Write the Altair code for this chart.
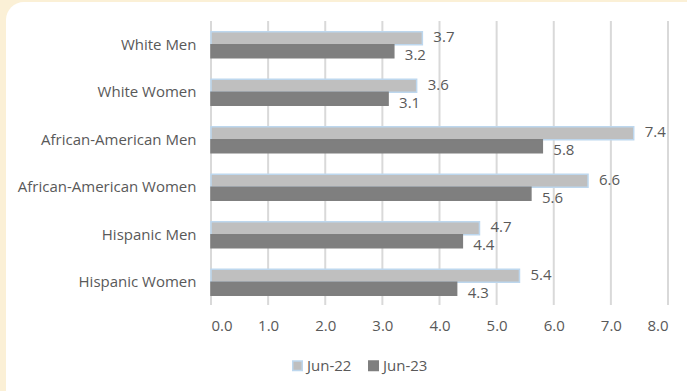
import altair as alt
import pandas as pd

categories = ["White Men", "White Women", "African-American Men",
              "African-American Women", "Hispanic Men", "Hispanic Women"]
series = ["Jun-22", "Jun-23"]
jun22 = [3.7, 3.6, 7.4, 6.6, 4.7, 5.4]
jun23 = [3.2, 3.1, 5.8, 5.6, 4.4, 4.3]
ticks = [0, 1, 2, 3, 4, 5, 6, 7, 8]

rows = []
for c, a, b in zip(categories, jun22, jun23):
    rows.append({"group": c, "series": "Jun-22", "value": a})
    rows.append({"group": c, "series": "Jun-23", "value": b})
df = pd.DataFrame(rows)

FONT = "Open Sans"
TXT = "#595959"
FS = 15
W, H = 457, 285

x_scale = alt.Scale(domain=[0, 8], nice=False)
x_axis = alt.Axis(values=ticks, format=".1f", grid=False, domain=False,
                  ticks=False, labelPadding=12, title=None, zindex=1,
                  labelFont=FONT, labelFontSize=FS, labelColor=TXT)
x_enc = alt.X("value:Q", scale=x_scale, axis=x_axis)
y_enc = alt.Y("group:N", sort=categories,
              scale=alt.Scale(paddingInner=0.45, paddingOuter=0.225),
              axis=alt.Axis(domain=False, ticks=False, labelPadding=15, title=None,
                            zindex=1, labelFont=FONT, labelFontSize=FS,
                            labelColor=TXT, labelLimit=300))
yoff = alt.YOffset("series:N", sort=series,
                   scale=alt.Scale(paddingInner=0, paddingOuter=0))

legend = alt.Legend(title=None, orient="none", legendX=79, legendY=337,
                    padding=0, direction="horizontal", symbolType="square",
                    symbolSize=90, symbolStrokeWidth=1.5, columnPadding=13,
                    labelFont=FONT, labelFontSize=FS, labelColor=TXT,
                    labelOffset=2)

# white rounded panel behind everything
panel = alt.Chart(pd.DataFrame({"k": [0]})).mark_rect(
    color="white", cornerRadius=18
).encode(x=alt.value(-205), x2=alt.value(520), y=alt.value(-19), y2=alt.value(420))

# vertical gridlines at each tick value
grid = alt.Chart(pd.DataFrame({"value": ticks})).mark_rule(
    color="#D9D9D9", strokeWidth=2
).encode(x=x_enc, y=alt.value(0), y2=alt.value(H - 1))

base = alt.Chart(df)

bars = base.mark_bar(strokeWidth=1.5).encode(
    x=x_enc, y=y_enc, yOffset=yoff,
    color=alt.Color("series:N", sort=series,
                    scale=alt.Scale(domain=series, range=["#BFBFBF", "#7F7F7F"]),
                    legend=legend),
    stroke=alt.Stroke("series:N", sort=series,
                      scale=alt.Scale(domain=series, range=["#BDD7EE", "#7F7F7F"]),
                      legend=legend),
)

lab22 = base.transform_filter(alt.datum.series == "Jun-22").mark_text(
    align="left", baseline="middle", dx=11, dy=-1, font=FONT, fontSize=FS, color=TXT
).encode(x=x_enc, y=y_enc, yOffset=yoff, text=alt.Text("value:Q", format=".1f"))

lab23 = base.transform_filter(alt.datum.series == "Jun-23").mark_text(
    align="left", baseline="middle", dx=11, dy=4, font=FONT, fontSize=FS, color=TXT
).encode(x=x_enc, y=y_enc, yOffset=yoff, text=alt.Text("value:Q", format=".1f"))

chart = alt.layer(panel, grid, bars, lab22, lab23).properties(
    width=W, height=H,
    autosize=alt.AutoSizeParams(type="none"),
    padding={"left": 211, "top": 21, "right": 19, "bottom": 85},
    background="#FBF0D6",
).configure_view(stroke=None)

chart.save("out.html", embed_options={"renderer": "svg", "actions": False})
